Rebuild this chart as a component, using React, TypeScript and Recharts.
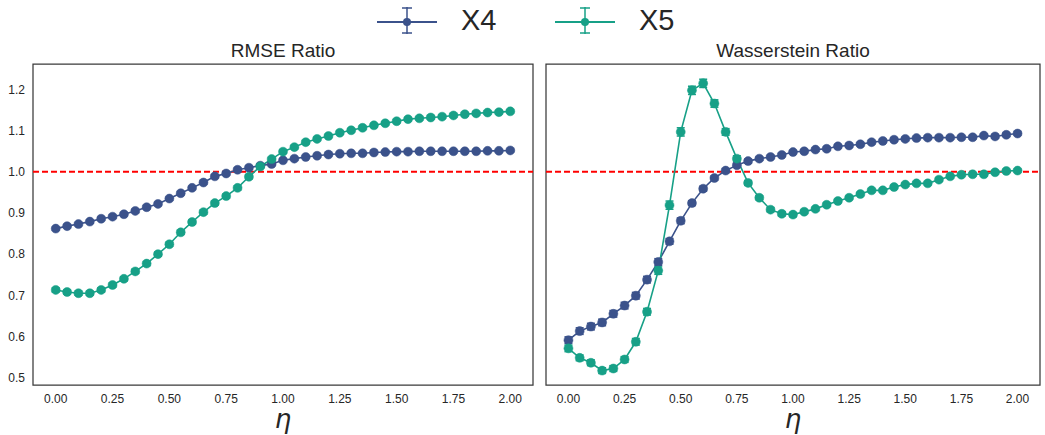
import {
  LineChart,
  Line,
  XAxis,
  YAxis,
  ReferenceLine,
  ReferenceArea,
  ErrorBar,
} from "recharts";

// ─── Data ────────────────────────────────────────────────────────────────────

const ETA = [
  0.0, 0.05, 0.1, 0.15, 0.2, 0.25, 0.3, 0.35, 0.4, 0.45, 0.5, 0.55, 0.6, 0.65,
  0.7, 0.75, 0.8, 0.85, 0.9, 0.95, 1.0, 1.05, 1.1, 1.15, 1.2, 1.25, 1.3, 1.35,
  1.4, 1.45, 1.5, 1.55, 1.6, 1.65, 1.7, 1.75, 1.8, 1.85, 1.9, 1.95, 2.0,
];

const RMSE_X4 = [
  0.862, 0.868, 0.873, 0.879, 0.886, 0.891, 0.897, 0.905, 0.914, 0.922, 0.935,
  0.948, 0.961, 0.974, 0.989, 0.996, 1.005, 1.01, 1.015, 1.019, 1.028, 1.032,
  1.036, 1.039, 1.042, 1.044, 1.045, 1.045, 1.047, 1.048, 1.049, 1.049, 1.05,
  1.05, 1.05, 1.05, 1.05, 1.05, 1.051, 1.051, 1.052,
];
const RMSE_X4_ERR = [
  0.004, 0.004, 0.004, 0.004, 0.004, 0.004, 0.004, 0.004, 0.004, 0.004, 0.004,
  0.004, 0.004, 0.004, 0.004, 0.004, 0.004, 0.004, 0.004, 0.004, 0.003, 0.003,
  0.003, 0.003, 0.003, 0.003, 0.003, 0.003, 0.003, 0.003, 0.003, 0.003, 0.003,
  0.003, 0.003, 0.003, 0.003, 0.003, 0.003, 0.003, 0.003,
];

const RMSE_X5 = [
  0.713, 0.708, 0.705, 0.705, 0.713, 0.725, 0.74, 0.758, 0.777, 0.8, 0.824,
  0.853, 0.878, 0.902, 0.924, 0.941, 0.961, 0.988, 1.013, 1.031, 1.049, 1.06,
  1.072, 1.08, 1.087, 1.095, 1.101, 1.107, 1.113, 1.118, 1.123, 1.128, 1.13,
  1.132, 1.134, 1.137, 1.14, 1.142, 1.144, 1.145, 1.147,
];
const RMSE_X5_ERR = [
  0.005, 0.005, 0.005, 0.005, 0.005, 0.005, 0.005, 0.005, 0.005, 0.005, 0.005,
  0.005, 0.005, 0.005, 0.005, 0.005, 0.005, 0.005, 0.004, 0.004, 0.004, 0.004,
  0.004, 0.004, 0.004, 0.004, 0.004, 0.004, 0.004, 0.004, 0.004, 0.004, 0.004,
  0.004, 0.004, 0.004, 0.004, 0.004, 0.004, 0.004, 0.004,
];

const WASS_X4 = [
  0.591, 0.613, 0.624, 0.634, 0.655, 0.675, 0.699, 0.738, 0.781, 0.831, 0.881,
  0.924, 0.959, 0.985, 1.003, 1.016, 1.026, 1.032, 1.036, 1.041, 1.048, 1.05,
  1.054, 1.056, 1.062, 1.064, 1.067, 1.072, 1.075, 1.078, 1.08, 1.082, 1.083,
  1.083, 1.083, 1.084, 1.084, 1.088, 1.086, 1.09, 1.093,
];
const WASS_X4_ERR = [
  0.008, 0.008, 0.008, 0.008, 0.008, 0.008, 0.008, 0.008, 0.008, 0.007, 0.007,
  0.006, 0.006, 0.005, 0.005, 0.005, 0.005, 0.004, 0.004, 0.004, 0.004, 0.004,
  0.004, 0.004, 0.004, 0.004, 0.004, 0.004, 0.004, 0.004, 0.004, 0.004, 0.004,
  0.004, 0.004, 0.004, 0.004, 0.004, 0.004, 0.004, 0.004,
];

const WASS_X5 = [
  0.571, 0.548, 0.536, 0.517, 0.522, 0.544, 0.587, 0.66, 0.76, 0.919, 1.097,
  1.198, 1.215, 1.166, 1.097, 1.032, 0.973, 0.937, 0.908, 0.898, 0.896, 0.903,
  0.91, 0.92, 0.929, 0.937, 0.946, 0.955, 0.955, 0.963, 0.969, 0.972, 0.972,
  0.981, 0.989, 0.993, 0.994, 0.994, 0.999, 1.002, 1.003,
];
const WASS_X5_ERR = [
  0.008, 0.007, 0.007, 0.007, 0.007, 0.007, 0.008, 0.008, 0.009, 0.01, 0.01,
  0.01, 0.01, 0.009, 0.008, 0.007, 0.006, 0.005, 0.005, 0.005, 0.005, 0.004,
  0.004, 0.004, 0.004, 0.004, 0.004, 0.004, 0.004, 0.004, 0.004, 0.004, 0.004,
  0.004, 0.004, 0.004, 0.004, 0.004, 0.004, 0.004, 0.004,
];

const X_TICKS = [0, 0.25, 0.5, 0.75, 1, 1.25, 1.5, 1.75, 2];
const Y_TICKS = [0.5, 0.6, 0.7, 0.8, 0.9, 1.0, 1.1, 1.2];

// ─── Style ───────────────────────────────────────────────────────────────────

const BLUE = "#3b528b";
const GREEN = "#17a087";
const INK = "#262626";
const FONT = "'Liberation Sans', Arial, sans-serif";
const X_DOMAIN: [number, number] = [-0.1, 2.1];
const Y_DOMAIN: [number, number] = [0.482, 1.262];

const rmseData = ETA.map((eta, i) => ({
  eta,
  x4: RMSE_X4[i],
  x4e: RMSE_X4_ERR[i],
  x5: RMSE_X5[i],
  x5e: RMSE_X5_ERR[i],
}));

const wassData = ETA.map((eta, i) => ({
  eta,
  x4: WASS_X4[i],
  x4e: WASS_X4_ERR[i],
  x5: WASS_X5[i],
  x5e: WASS_X5_ERR[i],
}));

type Row = (typeof rmseData)[number];

// ─── Panel ───────────────────────────────────────────────────────────────────

function Panel({
  data,
  showY,
  width,
  margin,
}: {
  data: Row[];
  showY: boolean;
  width: number;
  margin: { top: number; right: number; left: number; bottom: number };
}) {
  const tick = { fontSize: 12, fill: INK, fontFamily: FONT };
  return (
    <LineChart width={width} height={435} data={data} margin={margin}>
      <XAxis
        dataKey="eta"
        type="number"
        domain={X_DOMAIN}
        ticks={X_TICKS}
        tickFormatter={(v: number) => v.toFixed(2)}
        tick={tick}
        axisLine={false}
        tickLine={false}
        tickMargin={3}
        height={50}
        allowDataOverflow
      />
      <YAxis
        type="number"
        domain={Y_DOMAIN}
        ticks={Y_TICKS}
        tickFormatter={(v: number) => v.toFixed(1)}
        tick={tick}
        axisLine={false}
        tickLine={false}
        width={33}
        hide={!showY}
        allowDataOverflow
      />
      <ReferenceLine
        y={1}
        stroke="#ff0000"
        strokeWidth={2}
        strokeDasharray="6 3"
      />
      <Line
        dataKey="x4"
        stroke={BLUE}
        strokeWidth={1.6}
        dot={{ r: 4.5, fill: BLUE, stroke: BLUE, strokeWidth: 0.5 }}
        isAnimationActive={false}
      >
        <ErrorBar dataKey="x4e" width={4} stroke={BLUE} strokeWidth={1.5} />
      </Line>
      <Line
        dataKey="x5"
        stroke={GREEN}
        strokeWidth={1.6}
        dot={{ r: 4.5, fill: GREEN, stroke: GREEN, strokeWidth: 0.5 }}
        isAnimationActive={false}
      >
        <ErrorBar dataKey="x5e" width={4} stroke={GREEN} strokeWidth={1.5} />
      </Line>
      <ReferenceArea
        x1={X_DOMAIN[0]}
        x2={X_DOMAIN[1]}
        y1={Y_DOMAIN[0]}
        y2={Y_DOMAIN[1]}
        fill="none"
        fillOpacity={0}
        stroke="#3a3a3a"
        strokeWidth={1.25}
        ifOverflow="visible"
      />
    </LineChart>
  );
}

// ─── Legend ──────────────────────────────────────────────────────────────────

function LegendMark({ color }: { color: string }) {
  return (
    <svg width={62} height={34} style={{ display: "block" }}>
      <line x1={1} y1={22} x2={61} y2={22} stroke={color} strokeWidth={1.8} />
      <line x1={31} y1={7} x2={31} y2={37} stroke={color} strokeWidth={1.5} />
      <line x1={26} y1={8} x2={36} y2={8} stroke={color} strokeWidth={1.5} />
      <line x1={26} y1={33} x2={36} y2={33} stroke={color} strokeWidth={1.5} />
      <circle cx={31} cy={22} r={4} fill={color} />
    </svg>
  );
}

function LegendItem({ color, label, left }: { color: string; label: string; left: number }) {
  return (
    <div style={{ position: "absolute", left, top: 0, display: "flex", alignItems: "flex-start" }}>
      <LegendMark color={color} />
      <span
        style={{
          marginLeft: 23,
          marginTop: 3,
          fontSize: 29,
          lineHeight: "34px",
          color: INK,
          fontFamily: FONT,
        }}
      >
        {label}
      </span>
    </div>
  );
}

// ─── Main component ──────────────────────────────────────────────────────────

export default function App() {
  const titleStyle = {
    position: "absolute" as const,
    top: 40,
    fontSize: 19,
    lineHeight: "22px",
    color: INK,
    fontFamily: FONT,
    textAlign: "center" as const,
  };
  const etaStyle = {
    position: "absolute" as const,
    top: 406,
    fontSize: 26,
    lineHeight: "26px",
    fontStyle: "italic" as const,
    fontFamily: "'DejaVu Sans', sans-serif",
    color: INK,
    textAlign: "center" as const,
  };
  return (
    <div
      style={{
        position: "absolute",
        left: 0,
        top: 0,
        width: 1045,
        height: 435,
        background: "#fff",
        fontFamily: FONT,
        overflow: "hidden",
      }}
    >
      <LegendItem color={BLUE} label="X4" left={376} />
      <LegendItem color={GREEN} label="X5" left={554} />

      <div style={{ ...titleStyle, left: 33, width: 500 }}>RMSE Ratio</div>
      <div style={{ ...titleStyle, left: 546, width: 494 }}>Wasserstein Ratio</div>

      <div style={{ position: "absolute", left: 0, top: 0 }}>
        <Panel
          data={rmseData}
          showY
          width={540}
          margin={{ top: 64, right: 7, left: 0, bottom: 0 }}
        />
      </div>
      <div style={{ position: "absolute", left: 540, top: 0 }}>
        <Panel
          data={wassData}
          showY={false}
          width={505}
          margin={{ top: 64, right: 5, left: 6, bottom: 0 }}
        />
      </div>

      <div style={{ ...etaStyle, left: 33, width: 500 }}>η</div>
      <div style={{ ...etaStyle, left: 546, width: 494 }}>η</div>
    </div>
  );
}
